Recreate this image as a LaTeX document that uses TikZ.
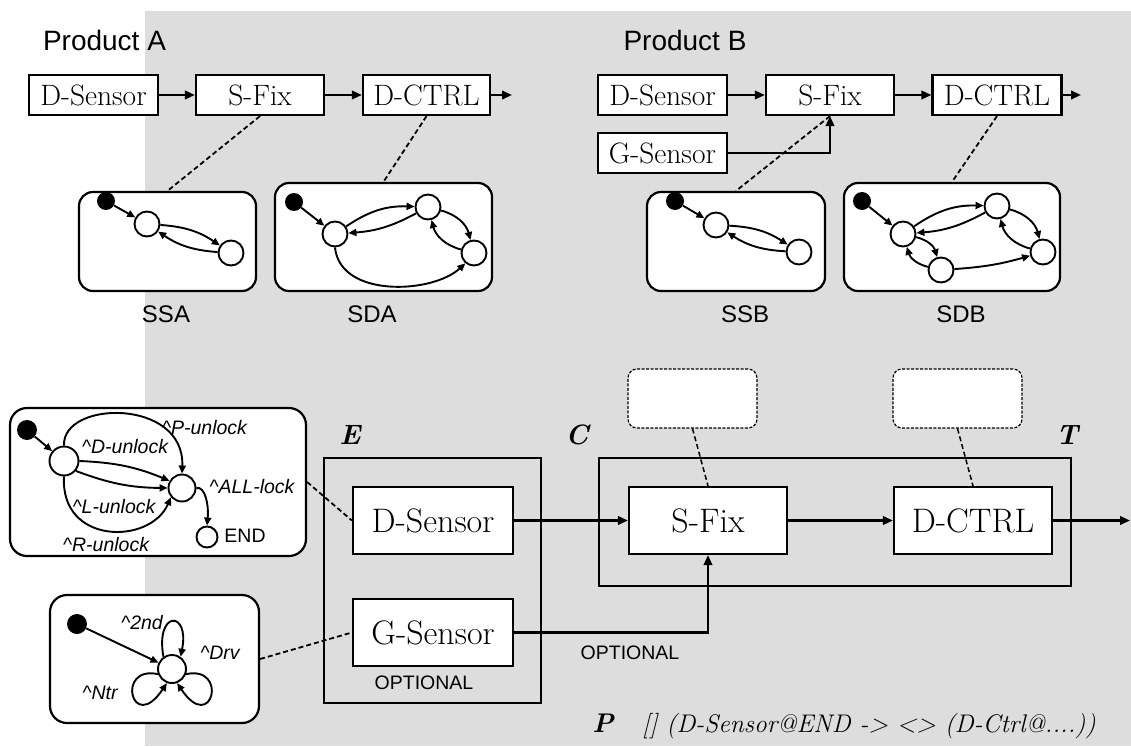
\documentclass[tikz,border=0pt]{standalone}
\usepackage{fontspec}
\newfontfamily\arial{Liberation Sans}
\usetikzlibrary{arrows.meta}
\definecolor{bggray}{RGB}{221,221,221}
\begin{document}
\begin{tikzpicture}[x=1pt,y=-1pt,
  blk/.style={draw, fill=white, line width=2.2pt, inner sep=0pt},
  tblk/.style={blk, minimum width=129pt, minimum height=40pt, font=\fontsize{29.5}{31}\selectfont},
  bblk/.style={blk, minimum width=158pt, minimum height=67pt, font=\fontsize{34}{36}\selectfont},
  stbox/.style={draw, fill=white, line width=2.2pt, rounded corners=14pt, inner sep=0pt},
  ghost/.style={draw, fill=white, line width=1.2pt, dash pattern=on 3pt off 1.5pt, rounded corners=9pt, minimum width=129pt, minimum height=59pt, inner sep=0pt},
  frm/.style={draw, line width=2.2pt, inner sep=0pt},
  st/.style={circle, draw, fill=white, line width=1.9pt, minimum size=25pt, inner sep=0pt},
  ini/.style={circle, fill=black, minimum size=18pt, inner sep=0pt},
  ar/.style={line width=2.2pt, -{Triangle[length=10pt,width=8.5pt]}},
  sa/.style={line width=1.9pt, -{Triangle[length=8pt,width=7pt]}},
  dsh/.style={line width=1.8pt, dash pattern=on 5pt off 3pt},
  sans/.style={font=\arial\fontsize{28}{30}\selectfont},
  sublbl/.style={font=\arial\fontsize{24}{26}\selectfont},
  lbl/.style={font=\arial\itshape\fontsize{19.5}{21}\selectfont, inner sep=0pt},
  opt/.style={font=\arial\fontsize{19.5}{21}\selectfont, inner sep=0pt},
  tag/.style={font=\bfseries\itshape\fontsize{28}{30}\selectfont, inner sep=0pt}]

\useasboundingbox (0,0) rectangle (1131,746);
\fill[white] (0,0) rectangle (1131,746);
\fill[bggray] (145,11) rectangle (1131,746);

% ---------- Product A ----------
\node[sans] (pa) at (104.5,40) {Product A};
\node[tblk] (aDs) at (93.5,95) {D-Sensor};
\node[tblk, minimum width=128pt] (aSf) at (260,95) {S-Fix};
\node[tblk, minimum width=127pt] (aDc) at (426.5,95) {D-CTRL};
\coordinate (aOut) at (512,95);
\draw[ar] (aDs) -- (aSf);
\draw[ar] (aSf) -- (aDc);
\draw[ar] (aDc) -- (aOut);

\node[stbox, minimum width=177pt, minimum height=99pt] (ssa) at (167.5,241.5) {};
\node[stbox, minimum width=217pt, minimum height=108pt] (sda) at (383.5,237) {};
\draw[dsh] (aSf.south) -- (ssa.north);
\draw[dsh] (aDc.south) -- (sda.north);
\node[sublbl] (lssa) at (166,314.5) {SSA};
\node[sublbl] (lsda) at (372,314.5) {SDA};

\node[ini] (ai) at (106,201) {};
\node[st] (a1) at (147,224) {};
\node[st] (a2) at (231,253) {};
\draw[sa] (ai) -- (a1);
\draw[sa] (a1) to[bend left=15] (a2);
\draw[sa] (a2) to[bend left=15] (a1);

\node[ini] (di) at (294,202) {};
\node[st] (d1) at (335,234) {};
\node[st] (d2) at (428,207) {};
\node[st] (d3) at (474,253) {};
\draw[sa] (di) -- (d1);
\draw[sa] (d1) to[bend left=18] (d2);
\draw[sa] (d2) to[bend left=12] (d1);
\draw[sa] (d2) to[bend left=30] (d3);
\draw[sa] (d3) to[bend left=30] (d2);
\draw[sa] (d1.south) .. controls (340,298) and (432,294) .. (d3.230);

% ---------- Product B ----------
\node[sans] (pb) at (685,40) {Product B};
\node[tblk] (bDs) at (662.5,95) {D-Sensor};
\node[tblk, minimum width=128pt] (bSf) at (830,95) {S-Fix};
\node[tblk] (bDc) at (997,95) {D-CTRL};
\node[tblk] (bGs) at (662.5,153) {G-Sensor};
\coordinate (bOut) at (1081,95);
\draw[ar] (bDs) -- (bSf);
\draw[ar] (bSf) -- (bDc);
\draw[ar] (bDc) -- (bOut);
\draw[ar] (bGs.east) -| (bSf.south);

\node[stbox, minimum width=178pt, minimum height=99pt] (ssb) at (736,241.5) {};
\node[stbox, minimum width=216pt, minimum height=108pt] (sdb) at (952,237) {};
\draw[dsh] (bSf.south) -- (ssb.north);
\draw[dsh] (bDc.south) -- (sdb.north);
\node[sublbl] (lssb) at (745,314.5) {SSB};
\node[sublbl] (lsdb) at (961,314.5) {SDB};

\node[ini] (bi) at (675,201) {};
\node[st] (b1) at (716,225) {};
\node[st] (b2) at (799,252) {};
\draw[sa] (bi) -- (b1);
\draw[sa] (b1) to[bend left=15] (b2);
\draw[sa] (b2) to[bend left=15] (b1);

\node[ini] (ei) at (862,201) {};
\node[st] (e1) at (903,234) {};
\node[st] (e2) at (997,206) {};
\node[st] (e3) at (1043,252) {};
\node[st] (e4) at (941,270) {};
\draw[sa] (ei) -- (e1);
\draw[sa] (e1) to[bend left=18] (e2);
\draw[sa] (e2) to[bend left=12] (e1);
\draw[sa] (e2) to[bend left=30] (e3);
\draw[sa] (e3) to[bend left=30] (e2);
\draw[sa] (e1) to[bend left=30] (e4);
\draw[sa] (e4) to[bend left=30] (e1);
\draw[sa] (e4) to[bend right=6] (e3);

% ---------- Product line ----------
\node[frm, minimum width=217pt, minimum height=245pt] (eb) at (432.5,580.5) {};
\node[frm, minimum width=472pt, minimum height=128pt] (cb) at (835,522) {};
\node[tag] (te) at (350,435) {E};
\node[tag] (tc) at (577,435) {C};
\node[tag] (tt) at (1067,435) {T};

\node[bblk, minimum width=160pt] (Ds) at (433,520.5) {D-Sensor};
\node[bblk, minimum width=160pt] (Gs) at (433,632.5) {G-Sensor};
\node[bblk] (Sf) at (708,520.5) {S-Fix};
\node[bblk] (Dc) at (973,520.5) {D-CTRL};
\coordinate (out) at (1130,520.5);
\draw[ar] (Ds) -- (Sf);
\draw[ar] (Sf) -- (Dc);
\draw[ar] (Dc) -- (out);
\draw[ar] (Gs.east) -| (Sf.south);
\node[opt] (o1) at (424,683) {OPTIONAL};
\node[opt] (o2) at (630,653) {OPTIONAL};

\node[ghost] (g1) at (692.5,398.5) {};
\node[ghost] (g2) at (957.5,398.5) {};
\draw[dsh, line width=1.5pt] (g1.south) -- (Sf.north);
\draw[dsh, line width=1.5pt] (g2.south) -- (Dc.north);

% property
\node[font=\bfseries\itshape\fontsize{27}{30}\selectfont, anchor=base, inner sep=0pt] (pp) at (603,732) {P};
\node[font=\itshape\fontsize{25.5}{28}\selectfont, anchor=base west, inner sep=0pt] (fml) at (642,732) {[] (D-Sensor@END -> <> (D-Ctrl@....))};

% ---------- door lock statechart ----------
\node[stbox, rounded corners=17pt, minimum width=296pt, minimum height=148pt] (unl) at (158,482) {};
\node[ini, minimum size=20pt] (ui) at (27,430) {};
\node[st, minimum size=29pt] (u1) at (64,461) {};
\node[st, minimum size=27pt] (u2) at (182,488) {};
\node[st, minimum size=21pt] (uend) at (207,537) {};
\draw[sa] (ui) -- (u1);
\draw[sa] (u1.north) .. controls (62,400) and (185,398) .. (u2.north);
\draw[sa] (u1.east) to[bend left=10] (u2.150);
\draw[sa] (u1.-40) to[bend right=10] (u2.west);
\draw[sa] (u1.south) .. controls (60,545) and (150,545) .. (u2.220);
\draw[sa] (u2.east) .. controls (205,486) and (209,505) .. (uend.north);
\node[lbl] (lP) at (204.5,428) {\textasciicircum P-unlock};
\node[lbl] (lD) at (125,447) {\textasciicircum D-unlock};
\node[lbl] (lA) at (252,487) {\textasciicircum ALL-lock};
\node[lbl] (lL) at (114,507) {\textasciicircum L-unlock};
\node[lbl] (lR) at (106,545) {\textasciicircum R-unlock};
\node[lbl, font=\arial\fontsize{19.5}{21}\selectfont] (lE) at (245,536) {END};
\draw[dsh] (unl.east) -- (Ds.west);

% ---------- drive mode statechart ----------
\node[stbox, rounded corners=17pt, minimum width=209pt, minimum height=128pt] (ntr) at (154.5,659) {};
\node[ini, minimum size=20pt] (ni) at (77,624) {};
\node[st, minimum size=28pt] (n1) at (172,669) {};
\draw[sa] (ni) -- (n1);
\draw[sa] (n1.125) .. controls (155,610) and (190,610) .. (n1.55);
\draw[sa] (n1.200) .. controls (115,665) and (132,735) .. (n1.250);
\draw[sa] (n1.-20) .. controls (229,665) and (212,735) .. (n1.-70);
\node[lbl] (l2) at (142,623) {\textasciicircum 2nd};
\node[lbl] (lDr) at (220,653) {\textasciicircum Drv};
\node[lbl] (lN) at (100,693) {\textasciicircum Ntr};
\draw[dsh] (ntr.east) -- (Gs.west);
\end{tikzpicture}
\end{document}
